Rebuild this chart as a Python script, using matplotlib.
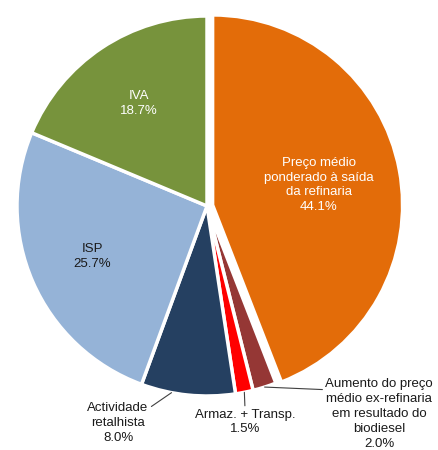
import matplotlib.pyplot as plt
import numpy as np

plt.rcParams['font.family'] = ['Liberation Sans', 'DejaVu Sans']

# dados
rotulos = ["Preço médio\nponderado à saída\nda refinaria",
           "Aumento do preço\nmédio ex-refinaria\nem resultado do\nbiodiesel",
           "Armaz. + Transp.",
           "Actividade\nretalhista",
           "ISP",
           "IVA"]
valores = [44.1, 2.0, 1.5, 8.0, 25.7, 18.7]
cores = ["#E36C09", "#953735", "#FF0000", "#254061", "#95B3D7", "#77933C"]

fig = plt.figure(figsize=(4.38, 4.5), dpi=100)
ax = fig.add_axes([0, 0, 1, 1])

explode = [0.03, 0, 0, 0, 0, 0]
wedges, _ = ax.pie(valores, colors=cores, startangle=90, counterclock=False,
                   explode=explode, radius=1.0,
                   wedgeprops=dict(edgecolor="white", linewidth=2.5))

# escala: ~190 px por unidade, centro em (207, 206) px
r_px = 190.0
cx, cy = 207.0, 206.0
ax.set_xlim(-cx / r_px, (438 - cx) / r_px)
ax.set_ylim((cy - 450) / r_px, cy / r_px)
ax.set_aspect('auto')
ax.axis('off')

fs = 9.5
ls = 1.32

def meio(w):
    return np.deg2rad((w.theta1 + w.theta2) / 2)

def texto(i):
    return rotulos[i] + "\n" + "{:.1f}%".format(valores[i])

# rotulos dentro
for i, dist, cor in [(0, 0.57, "white"), (5, 0.65, "white"), (4, 0.66, "#1a1a1a")]:
    a = meio(wedges[i])
    ox, oy = wedges[i].center
    ax.text(ox + dist * np.cos(a), oy + dist * np.sin(a), texto(i),
            ha="center", va="center", fontsize=fs, color=cor, linespacing=ls)

# rotulos fora com linhas
lp = dict(arrowstyle="-", color="#404040", lw=0.8, shrinkA=0, shrinkB=0)

a = meio(wedges[1])
ax.annotate(texto(1), xy=(np.cos(a), np.sin(a)),
            xytext=((379 - cx) / r_px, (cy - 414) / r_px),
            ha="center", va="center", fontsize=fs, color="#1a1a1a",
            linespacing=ls,
            arrowprops=dict(lp, relpos=(0.0, 0.84)))

a = meio(wedges[2])
ax.annotate(texto(2), xy=(np.cos(a), np.sin(a)),
            xytext=((245 - cx) / r_px, (cy - 422) / r_px),
            ha="center", va="center", fontsize=fs, color="#1a1a1a",
            linespacing=ls,
            arrowprops=dict(lp, relpos=(0.5, 1.0)))

a = meio(wedges[3]) - np.deg2rad(5)
ax.annotate(texto(3), xy=(np.cos(a), np.sin(a)),
            xytext=((118 - cx) / r_px, (cy - 423) / r_px),
            ha="center", va="center", fontsize=fs, color="#1a1a1a",
            linespacing=ls,
            arrowprops=dict(lp, relpos=(1.0, 0.85)))

fig.savefig("out.png", dpi=100, facecolor="white")
